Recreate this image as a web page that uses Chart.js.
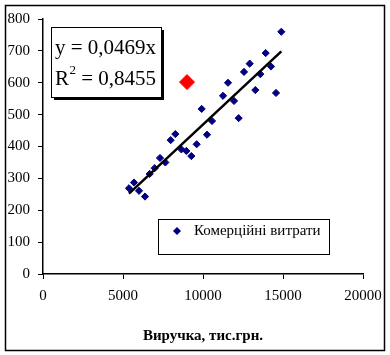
<!DOCTYPE html>
<html><head><meta charset="utf-8">
<script src="https://cdn.jsdelivr.net/npm/chart.js@4/dist/chart.umd.min.js"></script>
<style>html,body{margin:0;padding:0;background:#fff}#wrap{width:390px;height:355px;position:relative}</style>
</head><body><div id="wrap"><canvas id="c" width="390" height="355"></canvas></div>
<script>
const revenue = [5375,5688,6000,6375,6667,6979,7313,7646,7979,8271,8646,8958,9271,9604,9917,10250,10563,11250,11563,11938,12229,12563,12917,13271,13583,13917,14250,14563,14896];
const costs   = [269,287,261,243,314,332,364,350,420,439,391,386,370,407,518,437,480,559,600,543,489,634,660,577,627,693,651,568,760];
const outlierX = [9000];
const outlierY = [602];
const slope = 0.0469;
const r2 = 0.8455;
const seriesName = 'Комерційні витрати';
const xTitle = 'Виручка, тис.грн.';
const eqLine1 = 'y = 0,0469x';
const eqR = 'R';
const eqSup = '2';
const eqRest = ' = 0,8455';

const SERIF = "'Liberation Serif', 'Times New Roman', serif";
const xmin = Math.min(...revenue), xmax = Math.max(...revenue);

const boxes = {
  id: 'boxes',
  afterDraw(chart) {
    const ctx = chart.ctx;
    ctx.save();
    // outer border
    ctx.strokeStyle = '#000'; ctx.lineWidth = 1.5;
    ctx.strokeRect(5.5, 5.5, 379, 345);
    // equation box with shadow
    const bx = 51, by = 27, bw = 110, bh = 70;
    ctx.fillStyle = '#000';
    ctx.fillRect(bx + 3, by + 3, bw, bh);
    ctx.fillStyle = '#fff';
    ctx.fillRect(bx, by, bw, bh);
    ctx.lineWidth = 1;
    ctx.strokeRect(bx + 0.5, by + 0.5, bw, bh);
    ctx.fillStyle = '#000';
    ctx.textBaseline = 'middle';
    ctx.textAlign = 'left';
    ctx.font = '21px ' + SERIF;
    ctx.fillText(eqLine1, 55, 48);
    ctx.fillText(eqR, 55, 79);
    let w = ctx.measureText(eqR).width;
    ctx.font = '13px ' + SERIF;
    ctx.fillText(eqSup, 55 + w + 0.5, 71);
    let w2 = ctx.measureText(eqSup).width;
    ctx.font = '21px ' + SERIF;
    ctx.fillText(eqRest, 55 + w + w2 + 0.5, 79);
    // legend box
    ctx.lineWidth = 1;
    ctx.strokeRect(158.5, 219.5, 171, 35);
    ctx.fillStyle = '#000080';
    ctx.beginPath();
    ctx.moveTo(177, 227); ctx.lineTo(181, 231); ctx.lineTo(177, 235); ctx.lineTo(173, 231); ctx.closePath();
    ctx.fill();
    ctx.fillStyle = '#000';
    ctx.font = '15px ' + SERIF;
    ctx.fillText(seriesName, 194, 231);
    ctx.restore();
  }
};

new Chart(document.getElementById('c'), {
  type: 'scatter',
  data: { datasets: [
    { type: 'line', label: 'trend', data: [{x: xmin, y: slope * xmin}, {x: xmax, y: slope * xmax}],
      borderColor: '#000', borderWidth: 2.5, pointRadius: 0, fill: false, order: 0 },
    { label: seriesName, data: revenue.map((x, i) => ({x, y: costs[i]})), pointStyle: 'rectRot',
      pointRadius: 3.6, backgroundColor: '#000080', borderColor: '#000080', borderWidth: 1, order: 1 },
    { label: 'outlier', data: outlierX.map((x, i) => ({x, y: outlierY[i]})), pointStyle: 'rectRot',
      pointRadius: 7.5, backgroundColor: '#ff0000', borderColor: '#ff0000', borderWidth: 1, order: 1 }
  ]},
  options: {
    responsive: false, animation: false, devicePixelRatio: 1,
    layout: { padding: { left: 5, top: 19, right: 27, bottom: 0 } },
    plugins: { legend: { display: false }, tooltip: { enabled: false } },
    scales: {
      x: { type: 'linear', min: 0, max: 20000,
        ticks: { stepSize: 5000, color: '#000', font: { family: SERIF, size: 15 }, padding: 8, maxRotation: 0, autoSkip: false, callback: v => String(v) },
        grid: { drawOnChartArea: false, tickLength: 5, color: '#000', lineWidth: 1 },
        border: { color: '#000', width: 1.5 },
        title: { display: true, text: xTitle, color: '#000', font: { family: SERIF, size: 15, weight: 'bold' }, padding: { top: 0, bottom: 10 } },
        afterFit(s) { s.height = 81; } },
      y: { min: 0, max: 800,
        ticks: { stepSize: 100, color: '#000', font: { family: SERIF, size: 15 }, padding: 8, callback: v => String(v) },
        grid: { drawOnChartArea: false, tickLength: 5, color: '#000', lineWidth: 1 },
        border: { color: '#000', width: 1.5 },
        afterFit(s) { s.width = 38; } }
    }
  },
  plugins: [boxes]
});
</script></body></html>
